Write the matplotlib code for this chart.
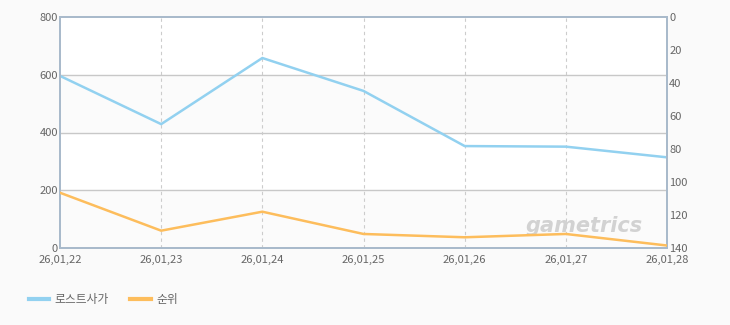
import numpy as np
import matplotlib.pyplot as plt

plt.rcParams['font.family'] = ['Noto Sans CJK KR', 'DejaVu Sans']

# ---- data ----
dates = ["26,01,22", "26,01,23", "26,01,24", "26,01,25", "26,01,26", "26,01,27", "26,01,28"]
players = [596, 429, 658, 544, 353, 351, 314]     # 로스트사가 (left axis)
rank = [106.5, 129.5, 118, 131.5, 133.5, 131.5, 138.5]  # 순위 (right axis, inverted)

blue = "#92d1f0"
orange = "#fdbd5c"
spine_c = "#a9bacb"
txt_c = "#666666"

fig = plt.figure(figsize=(7.3, 3.25), dpi=100, facecolor="#fafafa")
ax = fig.add_axes([60/730, 77/325, 607/730, 231/325])
x = np.arange(len(dates))

ax.set_xlim(0, len(dates) - 1)
ax.set_ylim(0, 800)
ax.set_facecolor("white")
# alternating bands
for lo in (0, 400):
    ax.axhspan(lo, lo + 200, color="#fbfbfb", zorder=0)
for yv in (200, 400, 600):
    ax.axhline(yv, color="#c8c8c8", lw=1, zorder=1)
for xv in x[1:-1]:
    ax.axvline(xv, color="#cccccc", lw=0.8, ls=(0, (3, 3)), zorder=1)

ax.plot(x, players, color=blue, lw=1.8, zorder=3)

ax.set_yticks([0, 200, 400, 600, 800])
ax.set_xticks(x)
ax.set_xticklabels(dates)
ax.tick_params(axis="y", length=0, labelsize=8, colors=txt_c, pad=1.5)
ax.tick_params(axis="x", length=0, labelsize=8, colors=txt_c, pad=5)

ax2 = ax.twinx()
ax2.set_ylim(140, 0)
ax2.set_yticks([0, 20, 40, 60, 80, 100, 120, 140])
ax2.tick_params(length=0, labelsize=8, colors=txt_c, pad=1.5)
ax2.plot(x, rank, color=orange, lw=1.8, zorder=3)

for a in (ax, ax2):
    for s in a.spines.values():
        s.set_color(spine_c)
        s.set_linewidth(1.4)

# watermark
ax2.text(0.96, 0.05, "gametrics", transform=ax.transAxes, ha="right", va="bottom",
         fontsize=15, fontweight="bold", style="italic", color="#d2d2d2",
         family="DejaVu Sans", zorder=2)

# legend
h1, = ax.plot([], [], color=blue, lw=3, label="로스트사가")
h2, = ax.plot([], [], color=orange, lw=3, label="순위")
fig.legend(handles=[h1, h2], loc="center left", bbox_to_anchor=(0.025, 0.077),
           ncol=2, frameon=False, fontsize=8.5, handlelength=1.7, handletextpad=0.5,
           columnspacing=1.8, labelcolor=txt_c)

fig.savefig("out.png", dpi=100, facecolor=fig.get_facecolor())
